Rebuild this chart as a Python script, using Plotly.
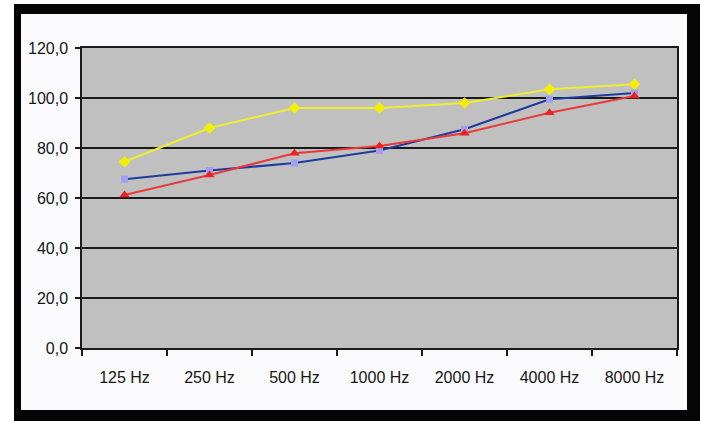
import plotly.graph_objects as go

# Octave-band frequencies
frequencies = ["125 Hz", "250 Hz", "500 Hz", "1000 Hz", "2000 Hz", "4000 Hz", "8000 Hz"]

# Three measured curves (dB)
yellow_series = [74.5, 88.0, 96.0, 96.0, 98.0, 103.5, 105.5]
blue_series = [67.5, 71.0, 74.0, 79.0, 87.5, 99.5, 102.0]
red_series = [61.2, 69.2, 77.9, 80.8, 85.9, 94.1, 100.8]

y_ticks = [0, 20, 40, 60, 80, 100, 120]

W, H = 711, 421
L, R, T, B = 82, 677, 48, 348  # plot area in pixels

FONT = "Liberation Sans Narrow, Arial Narrow, Liberation Sans, Arial, sans-serif"

fig = go.Figure()

fig.add_trace(go.Scatter(
    x=frequencies, y=blue_series, mode="lines+markers",
    line=dict(color="#1f3c9c", width=2.2),
    marker=dict(symbol="square", size=7, color="#a0a0ee"),
))
fig.add_trace(go.Scatter(
    x=frequencies, y=red_series, mode="lines+markers",
    line=dict(color="#e83a3a", width=2),
    marker=dict(symbol="triangle-up", size=9, color="#ee2020"),
))
fig.add_trace(go.Scatter(
    x=frequencies, y=yellow_series, mode="lines+markers",
    line=dict(color="#eeee30", width=2),
    marker=dict(symbol="diamond", size=9, color="#f2f000"),
))


def px_x(p):
    return (p - L) / (R - L)


def px_y(p):
    return (B - p) / (B - T)


def band(x0, y0, x1, y1, color):
    return dict(
        type="rect", xref="paper", yref="paper",
        x0=px_x(x0), x1=px_x(x1), y0=px_y(y1), y1=px_y(y0),
        fillcolor=color, line=dict(width=0), layer="above",
    )


shapes = [
    # outer white margin
    band(0, 0, 14, 421, "white"),
    band(0, 0, 711, 4, "white"),
    band(700, 0, 711, 421, "white"),
    # black picture frame
    band(14, 4, 21, 421, "#050505"),
    band(14, 4, 700, 14, "#050505"),
    band(687, 4, 700, 421, "#050505"),
    band(14, 410, 700, 421, "#050505"),
]

fig.update_layout(
    width=W, height=H,
    margin=dict(l=L, r=W - R, t=T, b=H - B, pad=0),
    paper_bgcolor="#fbfbfd",
    plot_bgcolor="#c0c0c0",
    showlegend=False,
    separators=", ",
    font=dict(family=FONT, size=16, color="#151515"),
    shapes=shapes,
    xaxis=dict(
        type="category",
        showgrid=False,
        showline=True, linecolor="#1a1a1a", linewidth=1.5, mirror=True,
        ticks="outside", ticklen=6, tickcolor="#1a1a1a", tickwidth=1.5,
        tickson="boundaries",
        ticklabelstandoff=14,
        tickfont=dict(family=FONT, size=16, color="#151515"),
        range=[-0.5, 6.5],
    ),
    yaxis=dict(
        range=[0, 120],
        tickvals=y_ticks,
        tickformat=".1f",
        showgrid=True, gridcolor="#1a1a1a", gridwidth=1.5,
        showline=True, linecolor="#1a1a1a", linewidth=1.5, mirror=True,
        ticks="outside", ticklen=5, tickcolor="#1a1a1a", tickwidth=1.5,
        ticklabelstandoff=4,
        zeroline=False,
        tickfont=dict(family=FONT, size=16, color="#151515"),
    ),
)

fig.write_html("out.html")
